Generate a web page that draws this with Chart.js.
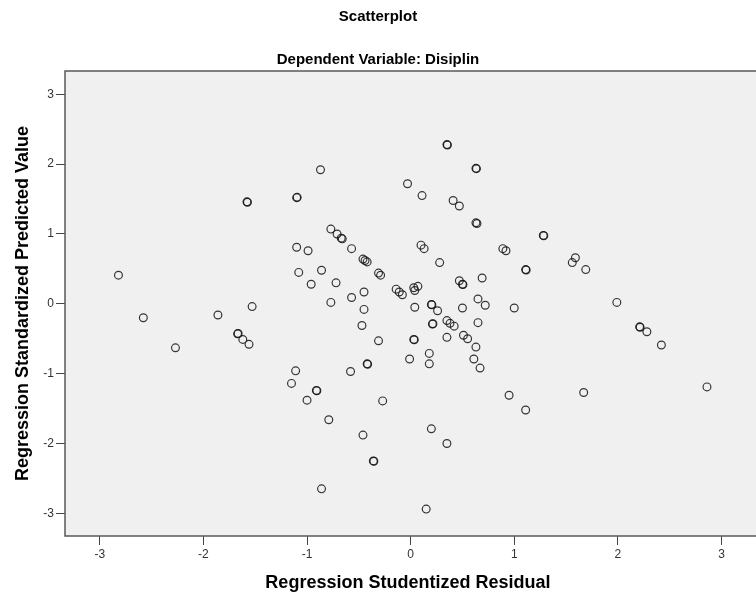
<!DOCTYPE html>
<html>
<head>
<meta charset="utf-8">
<script src="https://cdn.jsdelivr.net/npm/chart.js@4/dist/chart.umd.min.js"></script>
<style>
  html, body { margin: 0; padding: 0; background: #fff; overflow: hidden; }
  #wrap { width: 756px; height: 594px; }
</style>
</head>
<body>
<div id="wrap"><canvas id="scatterChart" width="756" height="594"></canvas></div>
<script>
// Regression Studentized Residual (x) and Standardized Predicted Value (y)
const residual = [
  -2.82, -2.58, -2.27, -1.86, -1.53, -1.67, -1.665, -1.62, -1.56, -1.58,
  -1.575, -1.10, -1.095, -0.87, -0.77, -0.71, -0.67, -0.66, -0.57, -1.10,
  -0.99, -0.46, -0.44, -0.42, -0.31, -0.29, -0.14, -0.11, -0.08, -1.08,
  -0.86, -0.96, -0.72, -0.45, -0.57, -0.77, -0.45, -0.47, -0.31, -0.42,
  -0.415, -0.58, -1.11, -1.15, -0.91, -0.905, -1.00, -0.27, -0.79, -0.46,
  -0.36, -0.355, -0.86, -0.03, 0.35, 0.355, 0.63, 0.635, 0.11, 0.41,
  0.47, 0.63, 0.64, 1.28, 1.285, 0.10, 0.13, 0.89, 0.92, 0.28,
  1.59, 1.56, 1.69, 1.11, 1.115, 0.47, 0.50, 0.505, 0.69, 0.03,
  0.07, 0.04, 1.99, 0.04, 0.20, 0.205, 0.26, 0.50, 0.65, 0.72,
  1.00, 2.21, 2.215, 2.28, 2.42, 2.86, 0.21, 0.215, 0.35, 0.38,
  0.42, 0.65, 0.03, 0.035, 0.35, 0.51, 0.55, 0.63, 0.18, -0.01,
  0.18, 0.61, 0.67, 0.95, 1.11, 1.67, 0.20, 0.35, 0.15
];
const predicted = [
  0.41, -0.20, -0.63, -0.16, -0.04, -0.43, -0.425, -0.51, -0.58, 1.46,
  1.455, 1.52, 1.525, 1.92, 1.07, 1.00, 0.94, 0.93, 0.79, 0.81,
  0.76, 0.64, 0.62, 0.60, 0.44, 0.41, 0.21, 0.17, 0.13, 0.45,
  0.48, 0.28, 0.30, 0.17, 0.09, 0.02, -0.08, -0.31, -0.53, -0.86,
  -0.865, -0.97, -0.96, -1.14, -1.24, -1.245, -1.38, -1.39, -1.66, -1.88,
  -2.25, -2.255, -2.65, 1.72, 2.28, 2.275, 1.94, 1.935, 1.55, 1.48,
  1.40, 1.16, 1.15, 0.98, 0.975, 0.84, 0.79, 0.79, 0.76, 0.59,
  0.66, 0.59, 0.49, 0.49, 0.485, 0.33, 0.28, 0.275, 0.37, 0.23,
  0.25, 0.19, 0.02, -0.05, -0.01, -0.015, -0.10, -0.06, 0.07, -0.02,
  -0.06, -0.33, -0.335, -0.40, -0.59, -1.19, -0.29, -0.285, -0.24, -0.28,
  -0.32, -0.27, -0.51, -0.515, -0.48, -0.45, -0.50, -0.62, -0.71, -0.79,
  -0.86, -0.79, -0.92, -1.31, -1.52, -1.27, -1.79, -2.00, -2.94
];
const xTicks = [-3, -2, -1, 0, 1, 2, 3];
const yTicks = [-3, -2, -1, 0, 1, 2, 3];

const FONT = '"Liberation Sans", Arial, sans-serif';

// grey plot area + frame (top, left, bottom)
const plotFrame = {
  id: 'plotFrame',
  beforeDraw(chart) {
    const { ctx, chartArea: a } = chart;
    ctx.save();
    ctx.fillStyle = '#f0f0f0';
    ctx.fillRect(a.left, a.top, chart.width - a.left, a.bottom - a.top);
    ctx.restore();
  },
  afterDraw(chart) {
    const { ctx, chartArea: a } = chart;
    ctx.save();
    ctx.strokeStyle = '#585858';
    ctx.lineWidth = 1.5;
    ctx.beginPath();
    ctx.moveTo(chart.width, a.top);
    ctx.lineTo(a.left, a.top);
    ctx.lineTo(a.left, a.bottom);
    ctx.lineTo(chart.width, a.bottom);
    ctx.stroke();
    ctx.restore();
  }
};

const ctx = document.getElementById('scatterChart').getContext('2d');
const scatterChart = new Chart(ctx, {
  type: 'scatter',
  data: {
    datasets: [{
      data: residual.map((x, i) => ({ x: x, y: predicted[i] })),
      pointStyle: 'circle',
      pointRadius: 3.9,
      pointBorderWidth: 1.2,
      borderColor: 'rgba(20, 20, 20, 0.85)',
      backgroundColor: 'rgba(0, 0, 0, 0)'
    }]
  },
  options: {
    responsive: false,
    animation: false,
    layout: { padding: 0 },
    scales: {
      x: {
        type: 'linear',
        min: -3.336,
        max: 3.283,
        afterFit: (s) => { s.height = 58; s.paddingLeft = 0; s.paddingRight = 0; },
        afterBuildTicks: (s) => { s.ticks = xTicks.map(v => ({ value: v })); },
        grid: { drawOnChartArea: false, drawTicks: true, tickLength: 9, tickColor: '#444', tickWidth: 1 },
        border: { display: false },
        ticks: { color: '#333', font: { family: FONT, size: 12 }, padding: 2, maxRotation: 0 },
        title: {
          display: true,
          text: 'Regression Studentized Residual',
          color: '#000',
          font: { family: FONT, size: 18, weight: 'bold' },
          padding: { top: 0, bottom: 0 }
        }
      },
      y: {
        type: 'linear',
        min: -3.325,
        max: 3.334,
        afterFit: (s) => { s.width = 65; s.paddingTop = 0; s.paddingBottom = 0; },
        afterBuildTicks: (s) => { s.ticks = yTicks.map(v => ({ value: v })); },
        grid: { drawOnChartArea: false, drawTicks: true, tickLength: 9, tickColor: '#444', tickWidth: 1 },
        border: { display: false },
        ticks: { color: '#333', font: { family: FONT, size: 12 }, padding: 2 },
        title: {
          display: true,
          text: 'Regression Standardized Predicted Value',
          color: '#000',
          font: { family: FONT, size: 18, weight: 'bold' },
          padding: { top: 12, bottom: 0 }
        }
      }
    },
    plugins: {
      legend: { display: false },
      tooltip: { enabled: false },
      title: {
        display: true,
        text: 'Scatterplot',
        color: '#000',
        font: { family: FONT, size: 15, weight: 'bold' },
        padding: { top: 8, bottom: 0 }
      },
      subtitle: {
        display: true,
        text: 'Dependent Variable: Disiplin',
        color: '#000',
        font: { family: FONT, size: 15, weight: 'bold' },
        padding: { top: 25, bottom: 2 }
      }
    }
  },
  plugins: [plotFrame]
});
</script>
</body>
</html>
